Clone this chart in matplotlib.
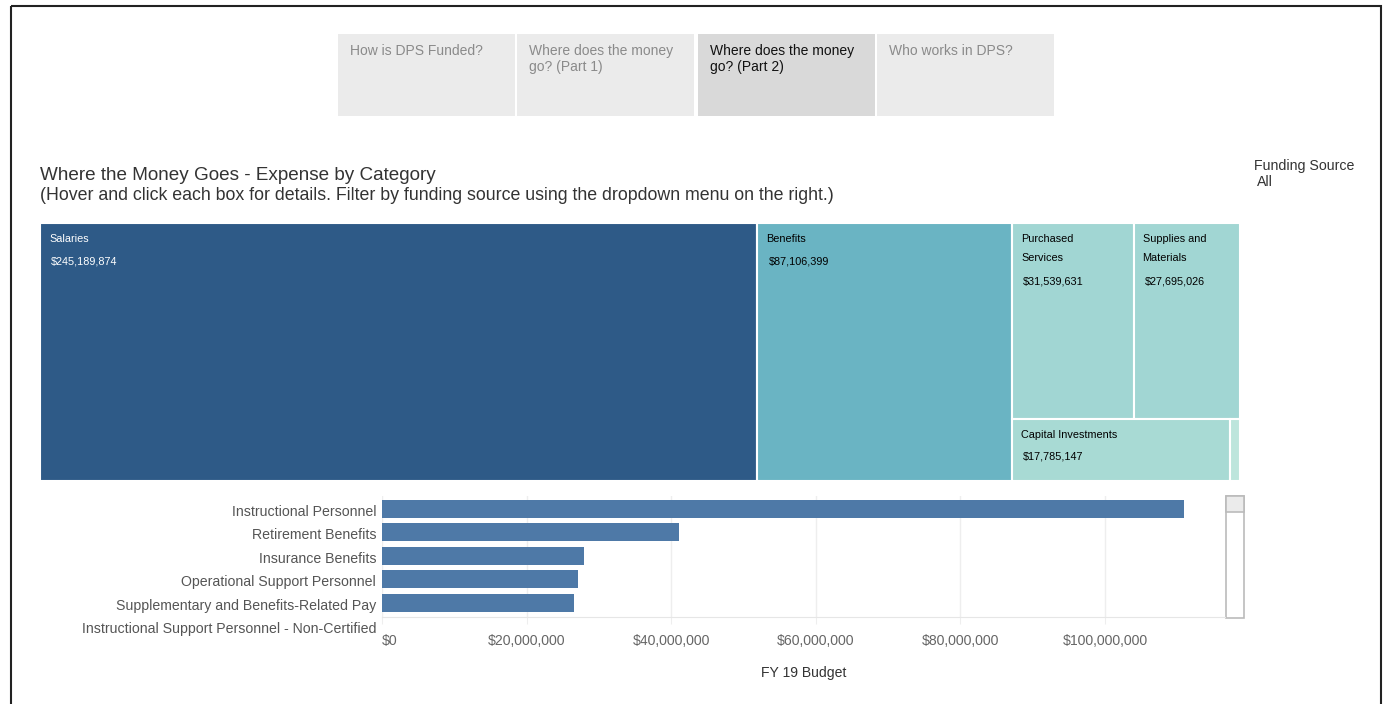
import textwrap
import matplotlib
matplotlib.use("Agg")
import matplotlib.pyplot as plt
from matplotlib.patches import Rectangle
from matplotlib.ticker import FuncFormatter

plt.rcParams['font.family'] = ['Liberation Sans', 'DejaVu Sans']

# tabs at the top
tab_names = ["How is DPS Funded?", "Where does the money\ngo? (Part 1)",
             "Where does the money\ngo? (Part 2)", "Who works in DPS?"]
active_tab = 2

# treemap data
tm_names = ["Salaries", "Benefits", "Purchased Services", "Supplies and Materials",
            "Capital Investments", "Other"]
tm_values = [245189874, 87106399, 31539631, 27695026, 17785147, 820000]
tm_colors = ["#2e5a87", "#6ab4c3", "#a1d6d3", "#a1d6d3", "#a8dad4", "#bde5dc"]
tm_text = ["white", "black", "black", "black", "black", "black"]

# bar chart data (6th category is scrolled out of view)
bar_names = ["Instructional Personnel", "Retirement Benefits", "Insurance Benefits",
             "Operational Support Personnel", "Supplementary and Benefits-Related Pay",
             "Instructional Support Personnel - Non-Certified"]
bar_values = [110900000, 41100000, 27900000, 27100000, 26600000]
x_ticks = [0, 20e6, 40e6, 60e6, 80e6, 100e6]

W, H = 1383, 704
fig = plt.figure(figsize=(W / 100, H / 100), dpi=100)

# overlay in pixel coords
ov = fig.add_axes([0, 0, 1, 1])
ov.set_xlim(0, W)
ov.set_ylim(H, 0)
ov.axis("off")

ov.add_patch(Rectangle((10.5, 5.5), 1370, 720, fill=False, ec="#222222", lw=1.5))

tab_x = [338, 517, 698, 877]
for i, name in enumerate(tab_names):
    fc = "#d9d9d9" if i == active_tab else "#ebebeb"
    ov.add_patch(Rectangle((tab_x[i], 34), 177, 82, fc=fc, ec="none"))
    ov.text(tab_x[i] + 12, 44, name, fontsize=10.0, va="top", ha="left",
            color="#111111" if i == active_tab else "#8a8a8a", linespacing=1.2)

ov.text(40, 176, "Where the Money Goes - Expense by Category", fontsize=13.6,
        va="center", color="#333333")
ov.text(40, 195, "(Hover and click each box for details. Filter by funding source "
        "using the dropdown menu on the right.)", fontsize=12.8, va="center",
        color="#333333")
ov.text(1254, 166, "Funding Source", fontsize=10.2, va="center", color="#333333")
ov.text(1257, 182, "All", fontsize=10.2, va="center", color="#333333")

# scrollbar next to the bar chart
ov.add_patch(Rectangle((1225.5, 495.5), 18.5, 122, fc="white", ec="#bbbbbb", lw=1.2))
ov.add_patch(Rectangle((1225.5, 495.5), 18.5, 16, fc="#ebebeb", ec="#bbbbbb", lw=1.2))


# squarified treemap
def worst(row, side):
    s = sum(row)
    return max(max(side * side * r / (s * s), s * s / (side * side * r)) for r in row)


def squarify(vals, x, y, w, h):
    rects = []
    vals = list(vals)
    while vals:
        side = min(w, h)
        row = [vals.pop(0)]
        while vals and worst(row + [vals[0]], side) <= worst(row, side):
            row.append(vals.pop(0))
        s = sum(row)
        if w >= h:
            rw = s / h
            yy = y
            for r in row:
                rects.append((x, yy, rw, r / rw))
                yy += r / rw
            x += rw
            w -= rw
        else:
            rh = s / w
            xx = x
            for r in row:
                rects.append((xx, y, r / rh, rh))
                xx += r / rh
            y += rh
            h -= rh
    return rects


tx, ty, tw, th = 40, 223, 1200, 258
total = sum(tm_values)
areas = [v / total * tw * th for v in tm_values]
rects = squarify(areas, tx, ty, tw, th)
for (x, y, w, h), name, val, c, tc in zip(rects, tm_names, tm_values, tm_colors, tm_text):
    ov.add_patch(Rectangle((x, y), w, h, fc=c, ec="white", lw=1.5))
    if w < 40:
        continue
    label = textwrap.fill(name, 12) if w < 150 else name
    nlines = label.count("\n") + 1
    ov.text(x + 9, y + 11, label, fontsize=7.8, va="top", ha="left", color=tc,
            linespacing=2.1)
    ov.text(x + 11, y + 38 + 20 * (nlines - 1) - (1 if y > 300 else 0),
            "${:,}".format(val), fontsize=7.8, va="center", ha="left", color=tc)

# bar chart
left, right, top, bottom = 382, 1225, 496, 617
ax = fig.add_axes([left / W, 1 - bottom / H, (right - left) / W, (bottom - top) / H])
ypos = list(range(len(bar_values)))
ax.barh(ypos, bar_values, height=0.76, color="#4e79a7")
ax.set_xlim(0, 116.6e6)
ax.set_ylim(4.6, -0.55)
ax.set_xticks(x_ticks)
ax.xaxis.set_major_formatter(FuncFormatter(lambda v, p: "${:,.0f}".format(v)))
ax.tick_params(axis="x", length=5, color="#eeeeee", labelsize=10.1,
               labelcolor="#666666", pad=7)
ax.get_xticklabels()[0].set_horizontalalignment("left")
ax.set_yticks([])
ax.grid(axis="x", color="#eeeeee", lw=1)
ax.set_axisbelow(True)
for s in ["top", "right", "left"]:
    ax.spines[s].set_visible(False)
ax.spines["bottom"].set_color("#e6e6e6")
for i, name in enumerate(bar_names):
    ax.text(-0.007, i + 0.12, name, transform=ax.get_yaxis_transform(), ha="right",
            va="center", fontsize=10.2, color="#555555", clip_on=False)
ax.set_xlabel("FY 19 Budget", fontsize=10.1, color="#333333", labelpad=13)

fig.savefig("out.png", dpi=100)
